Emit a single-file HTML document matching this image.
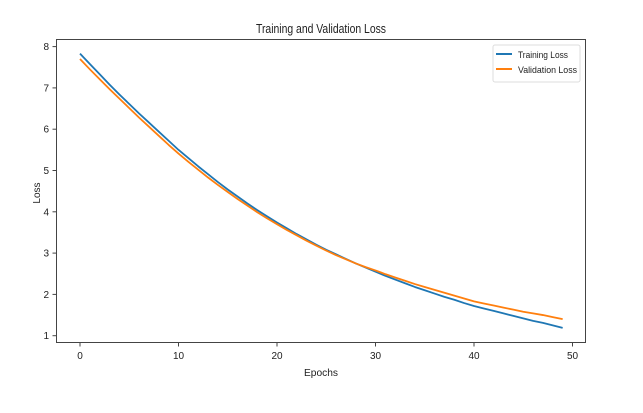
<!DOCTYPE html>
<html><head><meta charset="utf-8"><style>
body{margin:0;background:#fff;}
svg{display:block;font-family:"Liberation Sans","DejaVu Sans",sans-serif;}
</style></head><body>
<svg id="chart" width="643" height="413" viewBox="0 0 643 413">
<text x="321" y="33" text-anchor="middle" font-size="12.5" fill="#222" textLength="130" lengthAdjust="spacingAndGlyphs">Training and Validation Loss</text>
<text x="321" y="376" text-anchor="middle" font-size="10" fill="#222" textLength="34" lengthAdjust="spacingAndGlyphs">Epochs</text>
<text transform="translate(40,193) rotate(-90)" text-anchor="middle" font-size="10" fill="#222">Loss</text>
<g id="ticks"></g>
<g id="series"></g>
<rect x="56.5" y="39.5" width="529" height="303" fill="none" stroke="#444" stroke-width="1"/>
<g>
<rect x="493" y="45" width="87" height="37" rx="2" fill="#fff" stroke="#ddd"/>
<line x1="496" y1="54" x2="512" y2="54" stroke="#1f77b4" stroke-width="2"/>
<text x="518" y="58" font-size="9.5" fill="#222" textLength="50" lengthAdjust="spacingAndGlyphs">Training Loss</text>
<line x1="496" y1="69" x2="512" y2="69" stroke="#ff7f0e" stroke-width="2"/>
<text x="518" y="73" font-size="9.5" fill="#222" textLength="59" lengthAdjust="spacingAndGlyphs">Validation Loss</text>
</g>
</svg>
<script>
const epochs = Array.from({length:50},(_,i)=>i);
const trainingLoss = [7.83,7.58,7.33,7.08,6.84,6.61,6.38,6.16,5.94,5.72,5.50,5.30,5.10,4.91,4.72,4.54,4.37,4.20,4.04,3.89,3.74,3.60,3.46,3.33,3.20,3.08,2.97,2.86,2.75,2.65,2.55,2.45,2.36,2.27,2.18,2.10,2.02,1.94,1.87,1.79,1.72,1.66,1.60,1.54,1.48,1.42,1.36,1.31,1.25,1.19];
const validationLoss = [7.70,7.45,7.21,6.97,6.74,6.51,6.28,6.06,5.84,5.62,5.41,5.21,5.02,4.83,4.65,4.48,4.31,4.15,3.99,3.84,3.70,3.56,3.43,3.30,3.18,3.06,2.95,2.85,2.75,2.66,2.58,2.49,2.41,2.33,2.25,2.18,2.11,2.04,1.97,1.90,1.83,1.78,1.73,1.68,1.63,1.58,1.54,1.50,1.45,1.40];
const xTicks = [0,10,20,30,40,50];
const yTicks = [1,2,3,4,5,6,7,8];
const NS='http://www.w3.org/2000/svg';
const x = v => 80 + v*9.85;
const y = v => 335.7 - (v-1)*41.3;
const tg = document.getElementById('ticks');
function el(tag, attrs, parent){const e=document.createElementNS(NS,tag);for(const k in attrs)e.setAttribute(k,attrs[k]);parent.appendChild(e);return e;}
xTicks.forEach(t=>{
  const l=el('line',{x1:x(t),x2:x(t),y1:342.5,y2:346.5,stroke:'#444'},tg);
  
  
  const tx=el('text',{x:x(t),y:359,'text-anchor':'middle','font-size':'10',fill:'#222'},tg);
  tx.textContent=t;
  
  
});
yTicks.forEach(t=>{
  const l=el('line',{x1:52.5,x2:56.5,y1:y(t),y2:y(t),stroke:'#444'},tg);
  
  
  const tx=el('text',{x:49,y:y(t)+3.5,'text-anchor':'end','font-size':'10',fill:'#222'},tg);
  tx.textContent=t;
  
  
});
const sg=document.getElementById('series');
function draw(vals,color,name){
  const d=vals.map((v,i)=>(i?'L':'M')+x(epochs[i]).toFixed(2)+','+y(v).toFixed(2)).join(' ');
  const p=el('path',{d:d,fill:'none',stroke:color,'stroke-width':'1.8','stroke-linejoin':'round'},sg);
  
  
}
draw(trainingLoss,'#1f77b4','training-loss-line');
draw(validationLoss,'#ff7f0e','validation-loss-line');
</script>
</body></html>
